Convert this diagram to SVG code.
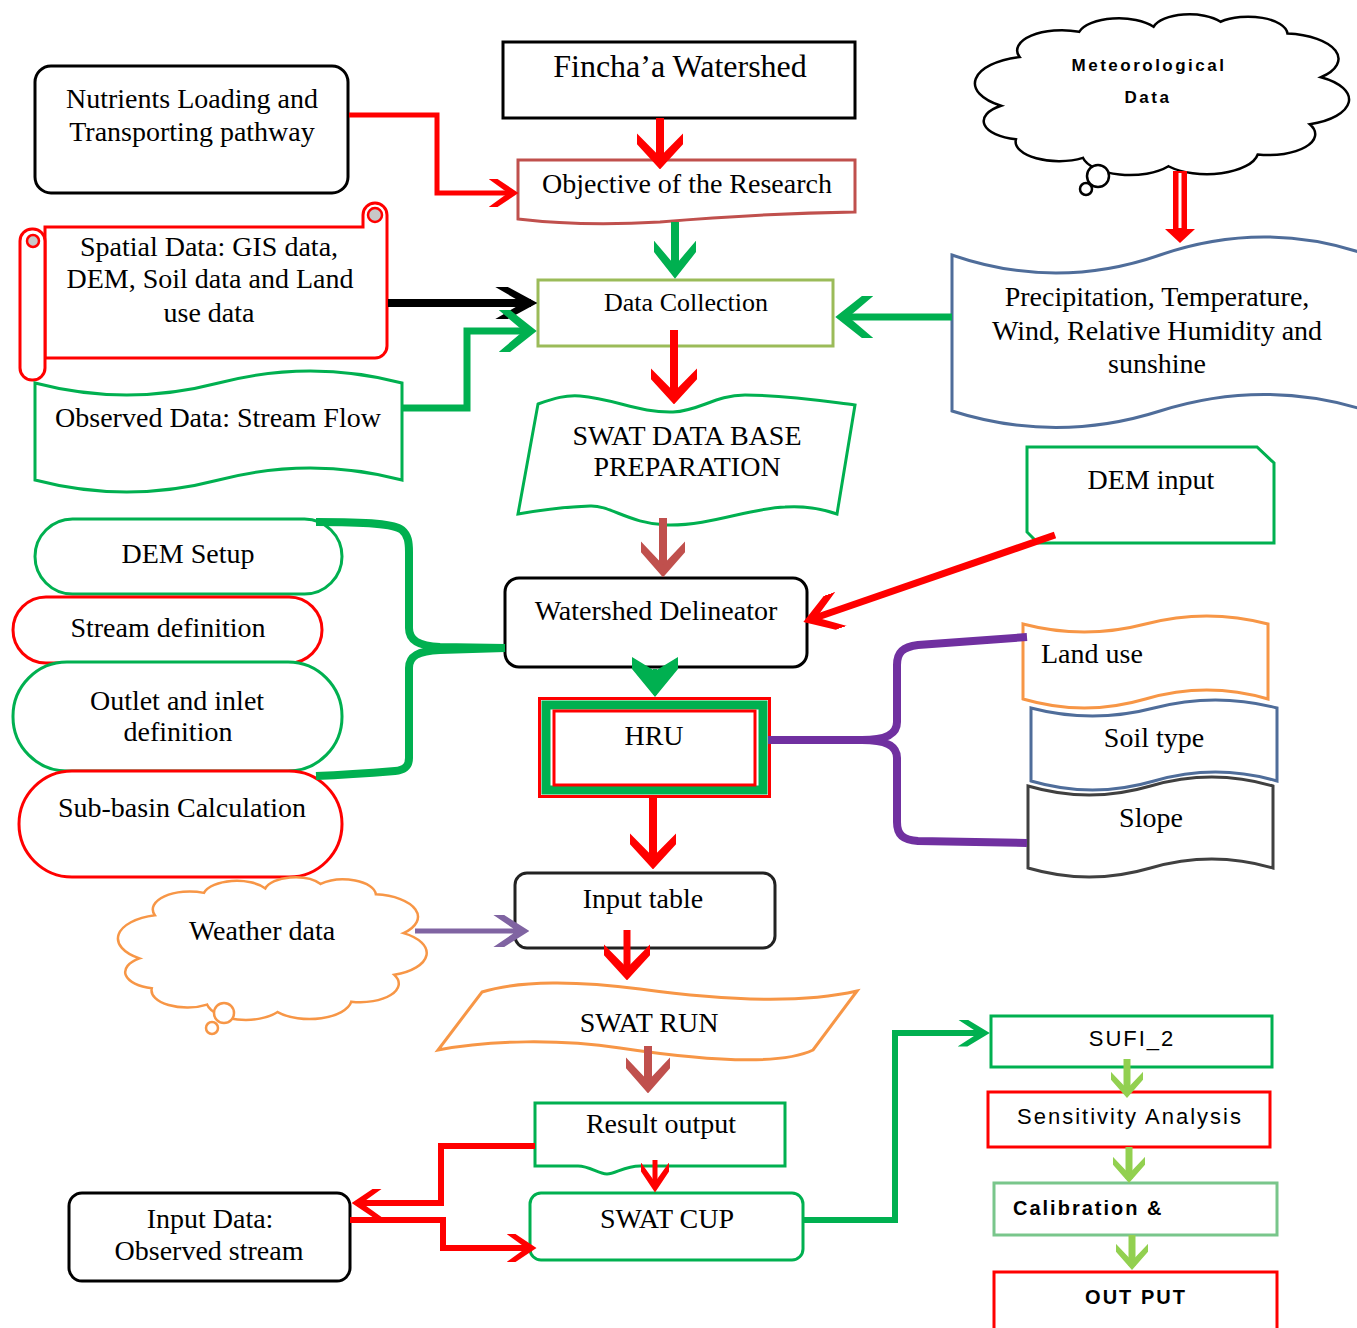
<svg xmlns="http://www.w3.org/2000/svg" width="1357" height="1328" viewBox="0 0 1357 1328">
<style>
.t{font-family:"Liberation Serif","Times New Roman",serif;font-size:28px;fill:#000;text-anchor:middle}
.s{font-family:"Liberation Sans",Arial,sans-serif;font-size:22px;fill:#000;text-anchor:middle;letter-spacing:2px}
.sb{font-family:"Liberation Sans",Arial,sans-serif;font-size:20px;font-weight:bold;fill:#000;letter-spacing:2px}
.n{fill:#fff;stroke-width:3}
.c{fill:none;stroke-linejoin:miter}
</style>
<defs>
<path id="cloud" vector-effect="non-scaling-stroke" d="M7,57 A16.2,16.2 0 0 1 12,28 A12,12 0 0 1 28,13 A11.1,11.1 0 0 1 48,10 A10,10 0 0 1 66,7 A10.6,10.6 0 0 1 84,14 A15.1,15.1 0 0 1 93,40 A15.5,15.5 0 0 1 90,68 A12.5,12.5 0 0 1 76,86 A13.8,13.8 0 0 1 52,93 A12.9,12.9 0 0 1 29,88 A11.6,11.6 0 0 1 11,77 A11.2,11.2 0 0 1 7,57 Z"/>
<marker id="redL" viewBox="0 0 40 40" preserveAspectRatio="none" refX="34" refY="20" markerWidth="36" markerHeight="46" markerUnits="userSpaceOnUse" orient="auto"><path d="M0,0 L12,0 L40,20 L12,40 L0,40 L26,20 Z" fill="#ff0000"/></marker>
<marker id="redM" viewBox="0 0 40 40" preserveAspectRatio="none" refX="34" refY="20" markerWidth="40" markerHeight="36" markerUnits="userSpaceOnUse" orient="auto"><path d="M0,0 L12,0 L40,20 L12,40 L0,40 L26,20 Z" fill="#ff0000"/></marker>
<marker id="redS" viewBox="0 0 40 40" preserveAspectRatio="none" refX="34" refY="20" markerWidth="30" markerHeight="28" markerUnits="userSpaceOnUse" orient="auto"><path d="M0,0 L12,0 L40,20 L12,40 L0,40 L26,20 Z" fill="#ff0000"/></marker>
<marker id="greenL" viewBox="0 0 40 40" preserveAspectRatio="none" refX="34" refY="20" markerWidth="38" markerHeight="42" markerUnits="userSpaceOnUse" orient="auto"><path d="M0,0 L12,0 L40,20 L12,40 L0,40 L26,20 Z" fill="#00b050"/></marker>
<marker id="greenXL" viewBox="0 0 40 40" preserveAspectRatio="none" refX="38" refY="20" markerWidth="40" markerHeight="46" markerUnits="userSpaceOnUse" orient="auto"><path d="M0,0 L12,0 L40,20 L12,40 L0,40 L14,20 Z" fill="#00b050"/></marker>
<marker id="greenS" viewBox="0 0 40 40" preserveAspectRatio="none" refX="34" refY="20" markerWidth="32" markerHeight="27" markerUnits="userSpaceOnUse" orient="auto"><path d="M0,0 L12,0 L40,20 L12,40 L0,40 L26,20 Z" fill="#00b050"/></marker>
<marker id="black" viewBox="0 0 40 40" preserveAspectRatio="none" refX="34" refY="20" markerWidth="42" markerHeight="32" markerUnits="userSpaceOnUse" orient="auto"><path d="M0,0 L12,0 L40,20 L12,40 L0,40 L26,20 Z" fill="#000"/></marker>
<marker id="brown" viewBox="0 0 40 40" preserveAspectRatio="none" refX="34" refY="20" markerWidth="36" markerHeight="44" markerUnits="userSpaceOnUse" orient="auto"><path d="M0,0 L12,0 L40,20 L12,40 L0,40 L26,20 Z" fill="#c0504d"/></marker>
<marker id="purple" viewBox="0 0 40 40" preserveAspectRatio="none" refX="34" refY="20" markerWidth="36" markerHeight="32" markerUnits="userSpaceOnUse" orient="auto"><path d="M0,0 L12,0 L40,20 L12,40 L0,40 L26,20 Z" fill="#8064a2"/></marker>
<marker id="lg" viewBox="0 0 40 40" preserveAspectRatio="none" refX="34" refY="20" markerWidth="26" markerHeight="32" markerUnits="userSpaceOnUse" orient="auto"><path d="M0,0 L12,0 L40,20 L12,40 L0,40 L26,20 Z" fill="#92d050"/></marker>
</defs>
<rect width="1357" height="1328" fill="#fff"/>

<g id="nutrients">
<rect class="n" x="35" y="66" width="313" height="127" rx="16" stroke="#000"/>
<text class="t" x="192" y="108">Nutrients Loading and</text>
<text class="t" x="192" y="141">Transporting pathway</text>
</g>
<g id="fincha">
<rect class="n" x="503" y="42" width="352" height="76" stroke="#000"/>
<text class="t" x="680" y="77" style="font-size:32px">Fincha’a Watershed</text>
</g>
<g id="objective">
<path class="n" d="M518,160 H855 V212 C790,213 720,217 660,222 C610,225 560,224 518,219 Z" stroke="#c0504d"/>
<text class="t" x="687" y="193">Objective of the Research</text>
</g>
<g id="spatial">
<path class="n" d="M45,227 H363 V215 A12,12 0 0 1 387,215 V346 A12,12 0 0 1 375,358 H45 Z" stroke="#ff0000"/>
<circle cx="375" cy="215" r="7" fill="#c8c8c8" stroke="#ff0000" stroke-width="2.5"/>
<rect class="n" x="20" y="229" width="25" height="151" rx="12" stroke="#ff0000"/>
<circle cx="33" cy="241" r="6" fill="#c8c8c8" stroke="#ff0000" stroke-width="2.5"/>
<text class="t" x="209" y="256">Spatial Data: GIS data,</text>
<text class="t" x="210" y="288">DEM, Soil data and Land</text>
<text class="t" x="209" y="322">use data</text>
</g>
<g id="observed">
<path class="n" d="M35,383 C96.2,399 157.3,399 218.5,383 C279.7,367 340.8,367 402,383 L402,480 C340.8,464 279.7,464 218.5,480 C157.3,496 96.2,496 35,480 Z" stroke="#00b050"/>
<text class="t" x="218" y="427">Observed Data: Stream Flow</text>
</g>
<g id="datacollection">
<rect class="n" x="538" y="280" width="295" height="66" stroke="#9bbb59"/>
<text class="t" x="686" y="311" style="font-size:26px">Data Collection</text>
</g>
<g id="meteorological">
<use href="#cloud" transform="translate(975,10) scale(3.72,1.68)" fill="#fff" stroke="#000" stroke-width="2.5"/>
<circle cx="1098" cy="176" r="11" fill="#fff" stroke="#000" stroke-width="2.5"/>
<circle cx="1086" cy="189" r="6" fill="#fff" stroke="#000" stroke-width="2.5"/>
<text class="sb" x="1149" y="71" style="font-size:17px;letter-spacing:2.5px;text-anchor:middle">Meteorological</text>
<text class="sb" x="1148" y="103" style="font-size:17px;letter-spacing:2.5px;text-anchor:middle">Data</text>
</g>
<g id="precipitation">
<path class="n" d="M952,255 C1021.3,279 1090.7,279 1160,255 C1229.3,231 1298.7,231 1368,255 L1368,411 C1298.7,389 1229.3,389 1160,411 C1090.7,433 1021.3,433 952,411 Z" stroke="#4f6d9a"/>
<text class="t" x="1157" y="306">Precipitation, Temperature,</text>
<text class="t" x="1157" y="340">Wind, Relative Humidity and</text>
<text class="t" x="1157" y="373">sunshine</text>
</g>
<g id="deminput">
<path class="n" d="M1027,447 H1257 L1274,463 V543 H1038 L1027,532 Z" stroke="#00b050"/>
<text class="t" x="1151" y="489">DEM input</text>
</g>
<g id="swatdb">
<path class="n" d="M538,404 C555,398 565,395 580,396 C615,399 640,413 673,412 C700,411 715,395 745,395 C790,395 830,402 855,405 L837,514 C820,508 800,506 785,507 C750,508 710,526 667,525 C630,524 610,505 590,506 C560,507 535,511 518,514 Z" stroke="#00b050" stroke-width="2.5"/>
<text class="t" x="687" y="445">SWAT DATA BASE</text>
<text class="t" x="687" y="476">PREPARATION</text>
</g>
<g id="demsetup">
<rect class="n" x="35" y="519" width="307" height="75" rx="37.5" stroke="#00b050" stroke-width="2.5"/>
<text class="t" x="188" y="563">DEM Setup</text>
</g>
<g id="streamdef">
<rect class="n" x="13" y="597" width="309" height="66" rx="33" stroke="#ff0000" stroke-width="2.5"/>
<text class="t" x="168" y="637">Stream definition</text>
</g>
<g id="outlet">
<rect class="n" x="13" y="662" width="329" height="109" rx="54" stroke="#00b050" stroke-width="2.5"/>
<text class="t" x="177" y="710">Outlet and inlet</text>
<text class="t" x="178" y="741">definition</text>
</g>
<g id="subbasin">
<rect class="n" x="19" y="771" width="323" height="106" rx="53" stroke="#ff0000" stroke-width="2.5"/>
<text class="t" x="182" y="817">Sub-basin Calculation</text>
</g>
<g id="delineator">
<rect class="n" x="505" y="578" width="302" height="89" rx="14" stroke="#000"/>
<text class="t" x="656" y="620">Watershed Delineator</text>
</g>
<g id="hru">
<rect x="539.5" y="698.5" width="230" height="98" fill="#fff" stroke="#ff0000" stroke-width="3"/>
<rect x="546" y="705" width="217" height="85" fill="none" stroke="#00b050" stroke-width="9"/>
<rect x="554" y="711" width="201" height="74" fill="#fff" stroke="#ff0000" stroke-width="3"/>
<text class="t" x="654" y="745">HRU</text>
</g>
<g id="landuse">
<path class="n" d="M1023,624 C1063.8,634.7 1104.7,634.7 1145.5,624 C1186.3,613.3 1227.2,613.3 1268,624 L1268,699 C1227.2,687 1186.3,687 1145.5,699 C1104.7,711 1063.8,711 1023,699 Z" stroke="#f79646"/>
<text class="t" x="1041" y="663" style="text-anchor:start">Land use</text>
</g>
<g id="soiltype">
<path class="n" d="M1031,708 C1072,718.7 1113,718.7 1154,708 C1195,697.3 1236,697.3 1277,708 L1277,781 C1236,769 1195,769 1154,781 C1113,793 1072,793 1031,781 Z" stroke="#4f6d9a"/>
<text class="t" x="1154" y="747">Soil type</text>
</g>
<g id="slope">
<path class="n" d="M1028,786 C1068.8,798 1109.7,798 1150.5,786 C1191.3,774 1232.2,774 1273,786 L1273,868 C1232.2,856 1191.3,856 1150.5,868 C1109.7,880 1068.8,880 1028,868 Z" stroke="#404040"/>
<text class="t" x="1151" y="827">Slope</text>
</g>
<g id="inputtable">
<rect class="n" x="515" y="873" width="260" height="75" rx="12" stroke="#222"/>
<text class="t" x="643" y="908">Input table</text>
</g>
<g id="weather">
<use href="#cloud" transform="translate(118,873.5) scale(3.07,1.49)" fill="#fff" stroke="#f79646" stroke-width="2.5"/>
<circle cx="224" cy="1013" r="10" fill="#fff" stroke="#f79646" stroke-width="2.5"/>
<circle cx="212" cy="1028" r="6" fill="#fff" stroke="#f79646" stroke-width="2.5"/>
<text class="t" x="262" y="940">Weather data</text>
</g>
<g id="swatrun">
<path class="n" d="M482,992 C520,980 580,981 640,989 C720,1000 800,1004 857,991 L813,1050 C780,1066 700,1060 620,1048 C560,1039 490,1040 438,1050 Z" stroke="#f79646" stroke-width="2.5"/>
<text class="t" x="649" y="1032">SWAT RUN</text>
</g>
<g id="result">
<path class="n" d="M535,1103 H785 V1166 H640 C625,1166 615,1174 607,1174 C598,1174 590,1166 578,1166 H535 Z" stroke="#00b050"/>
<text class="t" x="661" y="1133">Result output</text>
</g>
<g id="swatcup">
<rect class="n" x="530" y="1193" width="273" height="67" rx="11" stroke="#00b050"/>
<text class="t" x="667" y="1228">SWAT CUP</text>
</g>
<g id="inputdata">
<rect class="n" x="69" y="1193" width="281" height="88" rx="13" stroke="#000"/>
<text class="t" x="210" y="1228">Input Data:</text>
<text class="t" x="209" y="1260">Observed stream</text>
</g>
<g id="sufi">
<rect class="n" x="991" y="1016" width="281" height="51" stroke="#00b050"/>
<text class="s" x="1132" y="1046">SUFI_2</text>
</g>
<g id="sensitivity">
<rect class="n" x="988" y="1092" width="282" height="55" stroke="#ff0000"/>
<text class="s" x="1130" y="1124">Sensitivity Analysis</text>
</g>
<g id="calibration">
<rect class="n" x="994" y="1183" width="283" height="52" stroke="#79c68b"/>
<text class="sb" x="1013" y="1215">Calibration &amp;</text>
</g>
<g id="output">
<rect class="n" x="994" y="1272" width="283" height="70" stroke="#ff0000"/>
<text class="sb" x="1136" y="1304" style="text-anchor:middle">OUT PUT</text>
</g>

<g id="connectors">
<path class="c" d="M349,115 H437 V193 H514" stroke="#ff0000" stroke-width="5" marker-end="url(#redS)"/>
<path class="c" d="M660,118 V164" stroke="#ff0000" stroke-width="8" marker-end="url(#redL)"/>
<path class="c" d="M675,222 V273" stroke="#00b050" stroke-width="8" marker-end="url(#greenL)"/>
<path class="c" d="M388,303 H531" stroke="#000" stroke-width="8" marker-end="url(#black)"/>
<path class="c" d="M402,408 H467 V331 H531" stroke="#00b050" stroke-width="7" marker-end="url(#greenL)"/>
<path class="c" d="M952,317 H841" stroke="#00b050" stroke-width="7" marker-end="url(#greenL)"/>
<rect x="1173" y="171" width="14" height="60" fill="#ff0000"/>
<line x1="1180" y1="173" x2="1180" y2="228" stroke="#fff" stroke-width="3"/>
<polygon points="1165,229 1195,229 1180,243" fill="#ff0000"/>
<path class="c" d="M674,330 V399" stroke="#ff0000" stroke-width="8" marker-end="url(#redL)"/>
<path class="c" d="M663,518 V572" stroke="#c0504d" stroke-width="8" marker-end="url(#brown)"/>
<path class="c" d="M1055,535 L809,620" stroke="#ff0000" stroke-width="7" marker-end="url(#redM)"/>
<path class="c" d="M316,522 C370,522 395,524 402,530 C408,535 409,542 409,552 V628 C409,640 418,646 440,647 L505,648 M505,648 L440,650 C418,651 409,656 409,668 V758 C409,766 405,770 395,771 C370,773 340,775 316,776" stroke="#00b050" stroke-width="8"/>
<path class="c" d="M655,669 V695" stroke="#00b050" stroke-width="4" marker-end="url(#greenXL)"/>
<path class="c" d="M768,740 H862 C885,740 897,735 897,722 V665 C897,652 903,647 918,645 L1027,637 M862,740 C885,740 897,745 897,758 V822 C897,835 903,840 918,841 L1027,843" stroke="#7030a0" stroke-width="8"/>
<path class="c" d="M653,798 V864" stroke="#ff0000" stroke-width="8" marker-end="url(#redL)"/>
<path class="c" d="M415,931 H524" stroke="#8064a2" stroke-width="5" marker-end="url(#purple)"/>
<path class="c" d="M627,930 V975" stroke="#ff0000" stroke-width="7" marker-end="url(#redL)"/>
<path class="c" d="M648,1046 V1088" stroke="#c0504d" stroke-width="8" marker-end="url(#brown)"/>
<path class="c" d="M655,1160 V1188" stroke="#ff0000" stroke-width="5" marker-end="url(#redS)"/>
<path class="c" d="M535,1146 H441 V1203 H356" stroke="#ff0000" stroke-width="6" marker-end="url(#redS)"/>
<path class="c" d="M350,1220 H443 V1248 H532" stroke="#ff0000" stroke-width="6" marker-end="url(#redS)"/>
<path class="c" d="M803,1220 H895 V1033 H985" stroke="#00b050" stroke-width="6" marker-end="url(#greenS)"/>
<path class="c" d="M1127,1059 V1094" stroke="#92d050" stroke-width="7" marker-end="url(#lg)"/>
<path class="c" d="M1129,1147 V1179" stroke="#92d050" stroke-width="7" marker-end="url(#lg)"/>
<path class="c" d="M1132,1235 V1266" stroke="#92d050" stroke-width="7" marker-end="url(#lg)"/>
</g>
</svg>
